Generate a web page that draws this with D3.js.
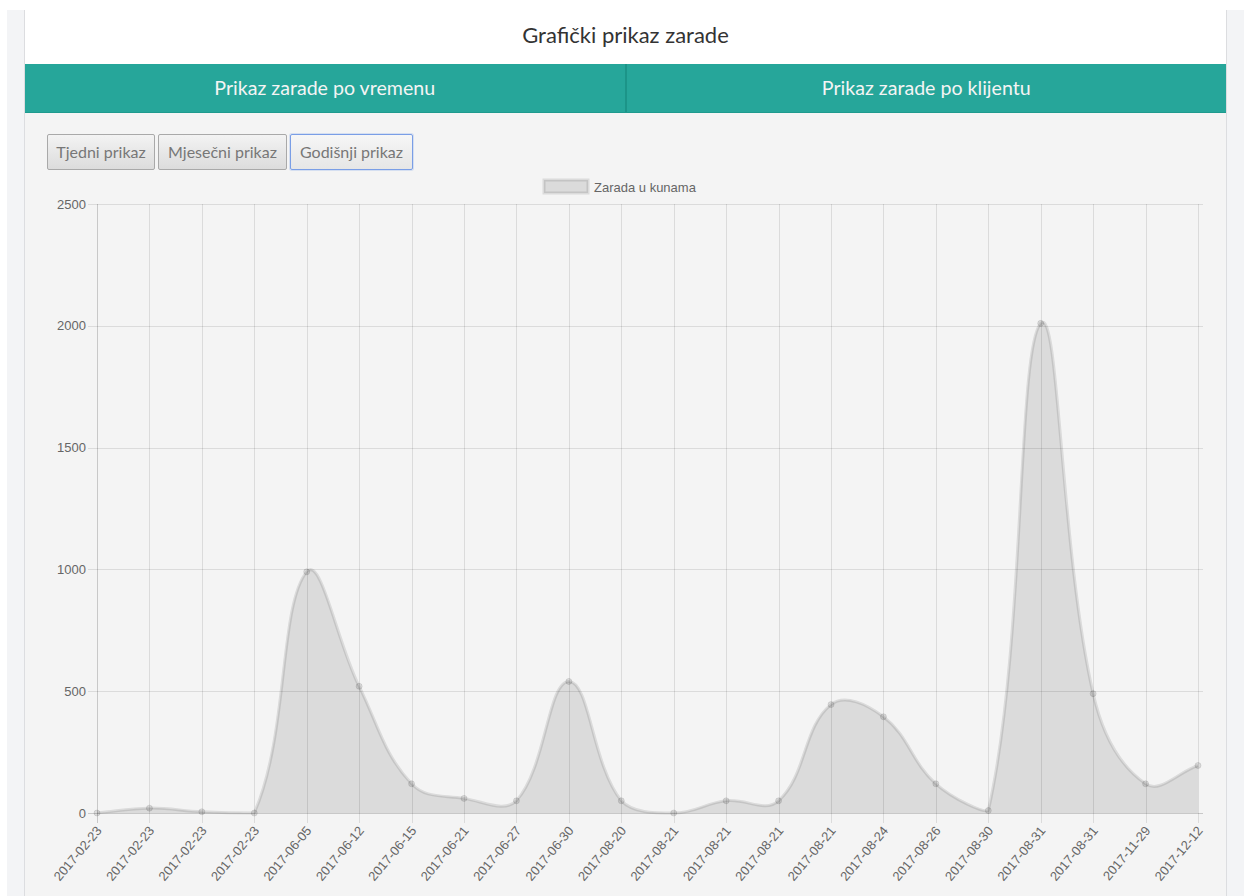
<!DOCTYPE html>
<html>
<head>
<meta charset="utf-8">
<script src="https://cdn.jsdelivr.net/npm/d3@7"></script>
<style>
  html, body { margin: 0; padding: 0; }
  body { width: 1244px; height: 896px; background: #fff; position: relative; overflow: hidden; font-family: Lato, "Open Sans", sans-serif; }
  .side { position: absolute; top: 10px; bottom: 0; background: #f3f4f6; }
  .side.left { left: 7px; width: 17px; border-right: 1px solid #dcdde0; }
  .side.right { left: 1226px; width: 18px; border-left: 1px solid #dcdde0; }
  .title { position: absolute; left: 25px; width: 1201px; top: 21px; text-align: center; font-size: 22px; color: #333; }
  .tabs { position: absolute; left: 25px; width: 1201px; top: 64px; height: 48px; background: #26a69a; border-bottom: 1px solid #1e9a8e; display: flex; }
  .tab { flex: 1; color: #f4f4f4; font-size: 19.6px; text-align: center; line-height: 48px; }
  .tab + .tab { border-left: 2px solid #1c9488; }
  .content { position: absolute; left: 25px; width: 1201px; top: 113px; bottom: 0; background: #f4f4f4; }
  .btn { position: absolute; top: 134px; height: 36px; box-sizing: border-box; border: 1px solid #a9a9a9; border-radius: 2px;
         background: linear-gradient(#f3f3f3, #dcdcdc); color: #777; font-size: 16px; line-height: 34px; text-align: center; font-family: Lato, sans-serif; }
  .btn.active { border-color: #7a9ee6; box-shadow: 0 0 0 1px rgba(120,160,230,0.25); background: linear-gradient(#f6f6f6, #e6e6e6); }
  svg { position: absolute; left: 0; top: 0; }
  .axis text { font-family: "Liberation Sans", Arial, sans-serif; font-size: 13px; fill: #666; }
</style>
</head>
<body>
<div class="side left"></div>
<div class="side right"></div>
<div class="title">Grafički prikaz zarade</div>
<div class="tabs"><div class="tab">Prikaz zarade po vremenu</div><div class="tab">Prikaz zarade po klijentu</div></div>
<div class="content"></div>
<div class="btn" style="left:47px;width:108px;">Tjedni prikaz</div>
<div class="btn" style="left:158px;width:129px;">Mjesečni prikaz</div>
<div class="btn active" style="left:290px;width:123px;">Godišnji prikaz</div>
<svg id="chart" width="1244" height="896"></svg>
<script>
// data
var dates = ["2017-02-23", "2017-02-23", "2017-02-23", "2017-02-23", "2017-06-05", "2017-06-12",
  "2017-06-15", "2017-06-21", "2017-06-27", "2017-06-30", "2017-08-20", "2017-08-21",
  "2017-08-21", "2017-08-21", "2017-08-21", "2017-08-24", "2017-08-26", "2017-08-30",
  "2017-08-31", "2017-08-31", "2017-11-29", "2017-12-12"];
var earnings = [0, 20, 5, 0, 990, 520, 120, 60, 50, 540, 50, 0,
  50, 50, 445, 395, 120, 10, 2010, 490, 120, 195];
var yTicks = [0, 500, 1000, 1500, 2000, 2500];
var seriesName = "Zarada u kunama";

var plotLeft = 97, plotRight = 1198, plotTop = 204, plotBottom = 813;
var gridColor = "rgba(0,0,0,0.1)";

var svg = d3.select("#chart");

var x = d3.scaleLinear()
  .domain([0, dates.length - 1])
  .range([plotLeft, plotRight]);

var y = d3.scaleLinear()
  .domain([0, 2500])
  .range([plotBottom, plotTop]);

// horizontal grid + y labels
var yAxis = svg.append("g").attr("class", "axis");
yAxis.selectAll("line")
  .data(yTicks)
  .enter()
  .append("line")
  .attr("x1", plotLeft - 9)
  .attr("x2", plotRight + 5)
  .attr("y1", d => Math.round(y(d)) + 0.5)
  .attr("y2", d => Math.round(y(d)) + 0.5)
  .attr("stroke", d => d === 0 ? "rgba(0,0,0,0.18)" : gridColor);
yAxis.selectAll("text")
  .data(yTicks)
  .enter()
  .append("text")
  .attr("x", plotLeft - 11)
  .attr("y", d => y(d))
  .attr("dy", "0.35em")
  .attr("text-anchor", "end")
  .text(d => d);

// vertical grid + rotated date labels
var xAxis = svg.append("g").attr("class", "axis");
xAxis.selectAll("line")
  .data(dates)
  .enter()
  .append("line")
  .attr("x1", (d, i) => Math.round(x(i)) + 0.5)
  .attr("x2", (d, i) => Math.round(x(i)) + 0.5)
  .attr("y1", plotTop)
  .attr("y2", plotBottom + 10)
  .attr("stroke", (d, i) => i === 0 ? "rgba(0,0,0,0.18)" : gridColor);
xAxis.selectAll("text")
  .data(dates)
  .enter()
  .append("text")
  .attr("transform", (d, i) => `translate(${x(i) + 2}, ${plotBottom + 15}) rotate(-50)`)
  .attr("text-anchor", "end")
  .attr("dy", "0.35em")
  .text(d => d);

// Chart.js style spline (tension 0.4, control points capped to chart area)
function splinePath(pts, tension) {
  var cap = p => [Math.min(Math.max(p[0], plotLeft), plotRight), Math.min(Math.max(p[1], plotTop), plotBottom)];
  var cps = pts.map(function(cur, i) {
    var prev = pts[Math.max(i - 1, 0)];
    var next = pts[Math.min(i + 1, pts.length - 1)];
    var d01 = Math.hypot(cur[0] - prev[0], cur[1] - prev[1]);
    var d12 = Math.hypot(next[0] - cur[0], next[1] - cur[1]);
    var s01 = d01 / (d01 + d12), s12 = d12 / (d01 + d12);
    if (isNaN(s01)) s01 = 0;
    if (isNaN(s12)) s12 = 0;
    var fa = tension * s01, fb = tension * s12;
    return {
      prev: cap([cur[0] - fa * (next[0] - prev[0]), cur[1] - fa * (next[1] - prev[1])]),
      next: cap([cur[0] + fb * (next[0] - prev[0]), cur[1] + fb * (next[1] - prev[1])])
    };
  });
  var p = d3.path();
  p.moveTo(pts[0][0], pts[0][1]);
  for (var i = 1; i < pts.length; i++) {
    p.bezierCurveTo(cps[i - 1].next[0], cps[i - 1].next[1], cps[i].prev[0], cps[i].prev[1], pts[i][0], pts[i][1]);
  }
  return p.toString();
}

var pts = earnings.map((d, i) => [x(i), y(d)]);
var linePath = splinePath(pts, 0.4);

svg.append("path")
  .attr("d", linePath + `L${x(earnings.length - 1)},${y(0)}L${x(0)},${y(0)}Z`)
  .attr("fill", "rgba(0,0,0,0.1)");

svg.append("path")
  .attr("d", linePath)
  .attr("fill", "none")
  .attr("stroke", "rgba(0,0,0,0.1)")
  .attr("stroke-width", 3);

svg.selectAll(".pt")
  .data(earnings)
  .enter()
  .append("circle")
  .attr("class", "pt")
  .attr("cx", (d, i) => x(i))
  .attr("cy", d => y(d))
  .attr("r", 3)
  .attr("fill", "rgba(0,0,0,0.1)")
  .attr("stroke", "rgba(0,0,0,0.1)")
  .attr("stroke-width", 1);

// legend
var legend = svg.append("g").attr("class", "axis");
legend.append("rect")
  .attr("x", 544)
  .attr("y", 180)
  .attr("width", 44)
  .attr("height", 13)
  .attr("fill", "rgba(0,0,0,0.1)")
  .attr("stroke", "rgba(0,0,0,0.1)")
  .attr("stroke-width", 3);
legend.append("text")
  .attr("x", 594)
  .attr("y", 187)
  .attr("dy", "0.35em")
  .text(seriesName);
</script>
</body>
</html>
